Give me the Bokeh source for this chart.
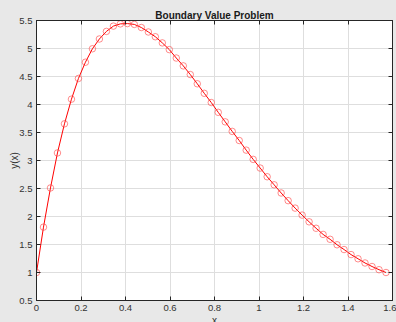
from bokeh.plotting import figure
from bokeh.models import Range1d, LinearAxis, GlobalInlineStyleSheet
from bokeh.embed import file_html
from bokeh.resources import INLINE

# ---- data ----
x_vals = [0.0, 0.0314, 0.0628, 0.0942, 0.1257, 0.1571, 0.1885, 0.2199, 0.2513, 0.2827,
          0.3142, 0.3456, 0.3770, 0.4084, 0.4398, 0.4712, 0.5027, 0.5341, 0.5655, 0.5969,
          0.6283, 0.6597, 0.6912, 0.7226, 0.7540, 0.7854, 0.8168, 0.8482, 0.8796, 0.9111,
          0.9425, 0.9739, 1.0053, 1.0367, 1.0681, 1.0996, 1.1310, 1.1624, 1.1938, 1.2252,
          1.2566, 1.2881, 1.3195, 1.3509, 1.3823, 1.4137, 1.4451, 1.4765, 1.5080, 1.5394,
          1.5708]
y_vals = [1.0, 1.81, 2.51, 3.135, 3.655, 4.095, 4.465, 4.755, 4.995, 5.17,
          5.305, 5.40, 5.44, 5.445, 5.43, 5.375, 5.295, 5.21, 5.10, 4.98,
          4.83, 4.69, 4.535, 4.37, 4.20, 4.035, 3.86, 3.69, 3.52, 3.357,
          3.185, 3.02, 2.865, 2.71, 2.566, 2.42, 2.283, 2.15, 2.025, 1.905,
          1.79, 1.68, 1.593, 1.495, 1.41, 1.32, 1.245, 1.17, 1.107, 1.05,
          1.0]
x_ticks = [0, 0.2, 0.4, 0.6, 0.8, 1.0, 1.2, 1.4, 1.6]
x_tick_labels = ["0", "0.2", "0.4", "0.6", "0.8", "1", "1.2", "1.4", "1.6"]
y_ticks = [0.5, 1.0, 1.5, 2.0, 2.5, 3.0, 3.5, 4.0, 4.5, 5.0, 5.5]
y_tick_labels = ["0.5", "1", "1.5", "2", "2.5", "3", "3.5", "4", "4.5", "5", "5.5"]
title_text = "Boundary Value Problem"
x_label = "x"
y_label = "y(x)"

FONT = "Liberation Sans"
BG = "#e8e8e8"
AX = "#262626"

p = figure(width=396, height=332, output_backend="svg", toolbar_location=None,
           x_range=Range1d(0, 1.6), y_range=Range1d(0.5, 5.5),
           min_border_left=36, min_border_right=4, min_border_top=20, min_border_bottom=32,
           background_fill_color="white", border_fill_color=BG)
p.stylesheets = [GlobalInlineStyleSheet(
    css="html,body{margin:0;padding:0;overflow:hidden;background:%s;}" % BG)]
p.outline_line_color = AX

p.title.text = title_text
p.title.align = "center"
p.title.text_font = FONT
p.title.text_font_size = "10px"
p.title.text_font_style = "bold"
p.title.text_color = "#1a1a1a"
p.title.standoff = 0
p.title.offset = 0

# axes
for ax, ticks, labels in ((p.xaxis[0], x_ticks, x_tick_labels), (p.yaxis[0], y_ticks, y_tick_labels)):
    ax.ticker = ticks
    ax.major_label_overrides = {t: l for t, l in zip(ticks, labels)}
    ax.major_tick_in = 4
    ax.major_tick_out = 0
    ax.minor_tick_line_color = None
    ax.axis_line_color = AX
    ax.major_tick_line_color = AX
    ax.major_label_text_font = FONT
    ax.major_label_text_font_size = "9.5px"
    ax.major_label_text_color = "#333333"
    ax.major_label_standoff = 4
    ax.axis_label_text_font = FONT
    ax.axis_label_text_font_size = "10px"
    ax.axis_label_text_font_style = "normal"
    ax.axis_label_text_color = "#333333"
    ax.axis_label_standoff = 1
p.yaxis.axis_label_standoff = -4
p.xaxis.axis_label = x_label
p.yaxis.axis_label = y_label

for side, ticks in (("right", y_ticks), ("above", x_ticks)):
    a = LinearAxis(ticker=ticks, major_tick_in=4, major_tick_out=0,
                   minor_tick_line_color=None, axis_line_color=AX,
                   major_tick_line_color=AX, major_label_text_font_size="0px",
                   major_label_overrides={t: "" for t in ticks},
                   major_label_standoff=0)
    p.add_layout(a, side)

p.xgrid.grid_line_color = "#dedede"
p.ygrid.grid_line_color = "#dedede"
p.xgrid.ticker = x_ticks
p.ygrid.ticker = y_ticks

# data
p.line(x_vals, y_vals, line_color="#ff0000", line_width=1)
p.scatter(x_vals, y_vals, marker="circle", size=6.5, fill_color=None,
          line_color="#ff4040", line_width=0.6)

open("out.html", "w").write(file_html(p, INLINE))
